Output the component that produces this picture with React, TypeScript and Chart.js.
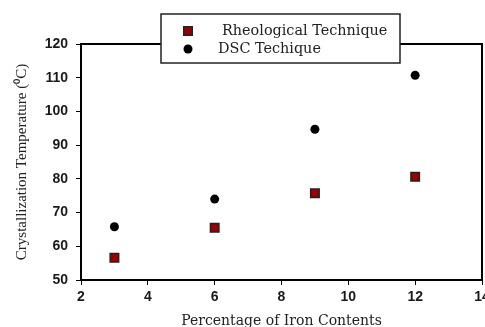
import React, { useEffect, useRef } from 'react';
import { Chart, registerables } from 'chart.js';
import { drawPoint } from 'chart.js/helpers';

Chart.register(...registerables);

// ---- Data ----
const ironContent = [3, 6, 9, 12];
const rheologicalTemp = [56.6, 65.5, 75.7, 80.6];
const dscTemp = [65.8, 74.0, 94.7, 110.7];
const seriesNames = ['Rheological Technique', 'DSC Techique'];
const xTitle = 'Percentage of Iron Contents';
const yTitle = 'Crystallization Temperature (\u2070C)';
const xRange = [2, 14, 2];
const yRange = [50, 120, 10];

const SERIF_H = "'DejaVu Serif', 'Liberation Serif', serif";
const SERIF_V = "'Liberation Serif', 'Times New Roman', serif";
const SANS = "'Liberation Sans', Arial, sans-serif";

const noPadding = () => ({ left: 0, top: 0, right: 0, bottom: 0 });

const framePlugin = {
  id: 'frame',
  afterDatasetsDraw(chart: any) {
    const { ctx, chartArea: a } = chart;
    ctx.save();
    ctx.strokeStyle = '#000';
    ctx.lineWidth = 2;
    ctx.beginPath();
    ctx.moveTo(a.left, a.top);
    ctx.lineTo(a.right, a.top);
    ctx.lineTo(a.right, a.bottom);
    ctx.stroke();
    ctx.restore();
  },
};

const boxLegendPlugin = {
  id: 'boxLegend',
  afterDraw(chart: any) {
    const { ctx } = chart;
    const box = { x: 161, y: 14, w: 239, h: 49 };
    ctx.save();
    ctx.fillStyle = '#fff';
    ctx.fillRect(box.x, box.y, box.w, box.h);
    ctx.strokeStyle = '#222';
    ctx.lineWidth = 1.5;
    ctx.strokeRect(box.x, box.y, box.w, box.h);
    const rows = [
      { y: 31, markerX: 188, textX: 222 },
      { y: 49, markerX: 188, textX: 218 },
    ];
    chart.data.datasets.forEach((ds: any, i: number) => {
      const r = rows[i];
      ctx.fillStyle = ds.backgroundColor;
      ctx.strokeStyle = ds.borderColor;
      ctx.lineWidth = ds.borderWidth;
      drawPoint(ctx, {
        pointStyle: ds.pointStyle,
        radius: ds.pointRadius,
        borderWidth: ds.borderWidth,
        rotation: 0,
      } as any, r.markerX, r.y);
      ctx.fillStyle = '#222';
      ctx.font = `14.4px ${SERIF_H}`;
      ctx.textAlign = 'left';
      ctx.textBaseline = 'middle';
      ctx.fillText(ds.label, r.textX, r.y);
    });
    ctx.restore();
  },
};

export default function App() {
  const ref = useRef<HTMLCanvasElement | null>(null);

  useEffect(() => {
    if (!ref.current) return;
    const chart = new Chart(ref.current, {
      type: 'scatter',
      data: {
        datasets: [
          {
            label: seriesNames[0],
            data: ironContent.map((x, i) => ({ x, y: rheologicalTemp[i] })),
            pointStyle: 'rect',
            pointRadius: 6,
            backgroundColor: '#9a0000',
            borderColor: '#222',
            borderWidth: 1.5,
          },
          {
            label: seriesNames[1],
            data: ironContent.map((x, i) => ({ x, y: dscTemp[i] })),
            pointStyle: 'circle',
            pointRadius: 4.5,
            backgroundColor: '#000',
            borderColor: '#000',
            borderWidth: 0,
          },
        ],
      },
      options: {
        responsive: false,
        animation: false,
        devicePixelRatio: 1,
        layout: { autoPadding: false, padding: { top: 44, right: 3, left: 0, bottom: 0 } },
        plugins: {
          legend: { display: false },
          tooltip: { enabled: false },
        },
        scales: {
          x: {
            type: 'linear',
            min: xRange[0],
            max: xRange[1],
            ticks: {
              stepSize: xRange[2],
              color: '#1a1a1a',
              font: { family: SANS, size: 14, weight: 'bold' },
              padding: 4,
              maxRotation: 0,
            },
            grid: {
              drawOnChartArea: false,
              drawTicks: true,
              tickLength: 5,
              color: '#000',
              lineWidth: 1,
            },
            border: { display: true, color: '#000', width: 2 },
            title: {
              display: true,
              text: xTitle,
              color: '#222',
              font: { family: SERIF_H, size: 14 },
              padding: { top: 0, bottom: -3 },
            },
            afterFit(scale: any) {
              scale.height = 47;
              scale.paddingLeft = 0;
              scale.paddingRight = 0;
              scale.getPadding = noPadding;
            },
          },
          y: {
            type: 'linear',
            min: yRange[0],
            max: yRange[1],
            ticks: {
              stepSize: yRange[2],
              color: '#1a1a1a',
              font: { family: SANS, size: 14, weight: 'bold' },
              padding: 8,
            },
            grid: {
              drawOnChartArea: false,
              drawTicks: true,
              tickLength: 5,
              color: '#000',
              lineWidth: 1,
            },
            border: { display: true, color: '#000', width: 2 },
            title: {
              display: true,
              text: yTitle,
              color: '#222',
              font: { family: SERIF_V, size: 15 },
              padding: { top: 13, bottom: 0 },
            },
            afterFit(scale: any) {
              scale.width = 81;
              scale.paddingTop = 0;
              scale.paddingBottom = 0;
              scale.getPadding = noPadding;
            },
          },
        },
      },
      plugins: [framePlugin, boxLegendPlugin],
    } as any);
    return () => chart.destroy();
  }, []);

  return (
    <div style={{ position: 'fixed', left: 0, top: 0, width: 485, height: 327, background: '#fff' }}>
      <canvas ref={ref} width={485} height={327} style={{ display: 'block', width: 485, height: 327 }} />
    </div>
  );
}
